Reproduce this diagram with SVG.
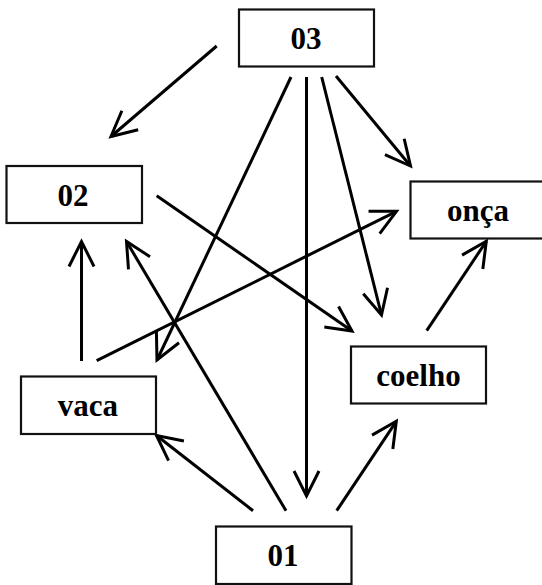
<svg xmlns="http://www.w3.org/2000/svg" width="542" height="585" viewBox="0 0 542 585">
  <style>
    .box { fill: #ffffff; stroke: #111111; stroke-width: 2.2; }
    .label { font-family: "Liberation Serif", "Times New Roman", serif; font-weight: bold; font-size: 31px; fill: #000000; text-anchor: middle; }
    .edge { stroke: #000000; stroke-width: 3; fill: none; marker-end: url(#vee); }
  </style>
  <defs>
    <!-- open V arrowhead -->
    <marker id="vee" markerUnits="userSpaceOnUse" viewBox="-30 -16 34 32" markerWidth="34" markerHeight="32" refX="0" refY="0" orient="auto" overflow="visible">
      <path d="M-25,-12.5 L0,0 L-25,12.5" fill="none" stroke="#000000" stroke-width="3" stroke-linejoin="miter"/>
    </marker>
  </defs>
  <rect width="542" height="585" fill="#ffffff"/>

  <g id="connectors">
    <line class="edge" x1="216.7" y1="46" x2="111" y2="136.5"/>
    <line class="edge" x1="291" y1="77" x2="157" y2="360"/>
    <line class="edge" x1="306.5" y1="77" x2="306.5" y2="496"/>
    <line class="edge" x1="321.7" y1="77" x2="381.5" y2="315"/>
    <line class="edge" x1="336" y1="76" x2="410.5" y2="166"/>
    <line class="edge" x1="156.7" y1="195.7" x2="352" y2="331"/>
    <line class="edge" x1="81.5" y1="361" x2="81.5" y2="241.5"/>
    <line class="edge" x1="96.7" y1="360.7" x2="396.5" y2="211.3"/>
    <line class="edge" x1="286" y1="510.7" x2="126.5" y2="241.5"/>
    <line class="edge" x1="253" y1="510.7" x2="156.5" y2="435.5"/>
    <line class="edge" x1="336.7" y1="510.7" x2="396.3" y2="421.3"/>
    <line class="edge" x1="426.7" y1="330.7" x2="486.3" y2="241.3"/>
  </g>

  <g id="n03">
    <rect class="box" x="239" y="9.5" width="135" height="57"/>
    <text class="label" x="306" y="48.5">03</text>
  </g>
  <g id="n02">
    <rect class="box" x="6.5" y="166" width="135.5" height="57"/>
    <text class="label" x="73" y="206">02</text>
  </g>
  <g id="onca">
    <rect class="box" x="410.5" y="181.5" width="136" height="57"/>
    <text class="label" x="478" y="221">onça</text>
  </g>
  <g id="vaca">
    <rect class="box" x="21" y="376.5" width="135" height="57.5"/>
    <text class="label" x="88" y="416">vaca</text>
  </g>
  <g id="coelho">
    <rect class="box" x="351" y="346.5" width="135" height="57"/>
    <text class="label" x="418.5" y="386">coelho</text>
  </g>
  <g id="n01">
    <rect class="box" x="216" y="526.5" width="135.5" height="57.5"/>
    <text class="label" x="283" y="565.5">01</text>
  </g>
</svg>
